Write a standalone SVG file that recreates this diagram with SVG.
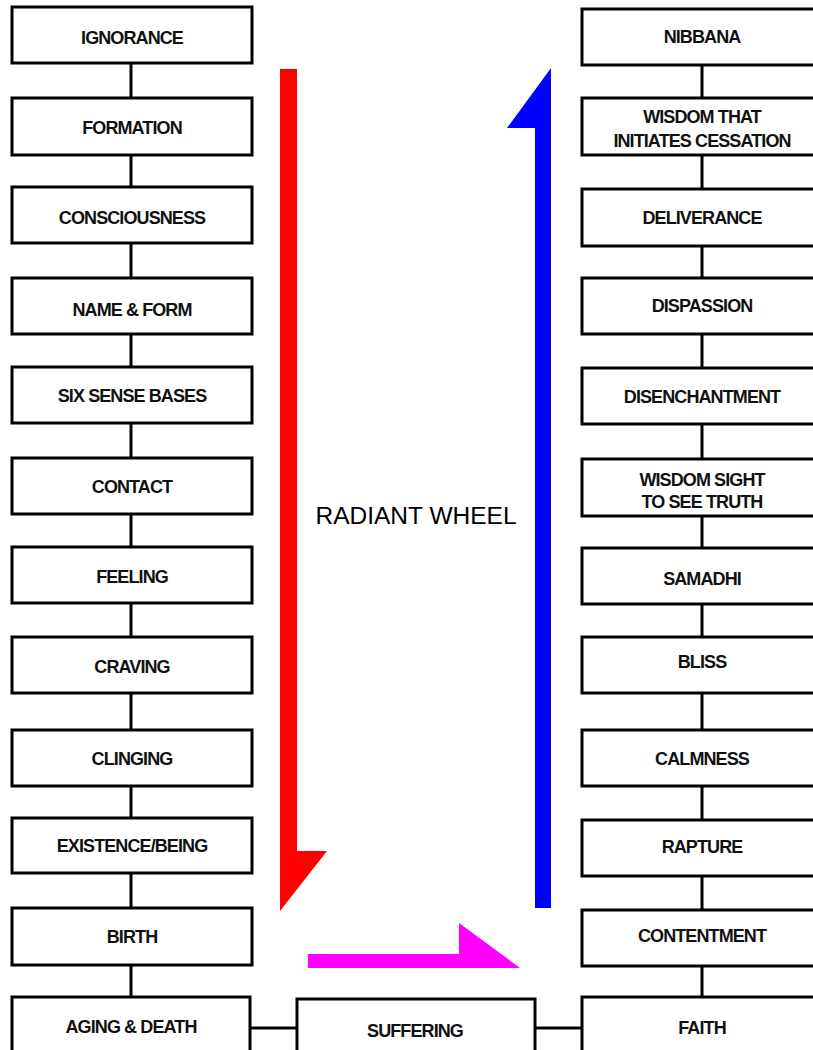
<svg xmlns="http://www.w3.org/2000/svg" width="813" height="1050" viewBox="0 0 813 1050">
<style>
.box{fill:#fff;stroke:#000;stroke-width:3}
.lbl{font-family:"Liberation Sans",Arial,sans-serif;font-weight:bold;font-size:18px;letter-spacing:-0.9px;text-anchor:middle;fill:#111}
.con{stroke:#000;stroke-width:3;fill:none}
.title{font-family:"Liberation Sans",Arial,sans-serif;font-size:24.5px;text-anchor:middle;fill:#000}
</style>
<rect width="813" height="1050" fill="#fff"/>
<g id="connectors">
<path class="con" d="M131 63V98M131 155V187M131 243V278M131 334V367M131 423V458M131 514V547M131 603V637M131 693V730M131 786V818M131 873V908M131 965V997"/>
<path class="con" d="M702 65V98M702 155V189M702 246V278M702 334V368M702 424V459M702 516V548M702 604V637M702 693V730M702 786V820M702 876V910M702 966V997"/>
<path class="con" d="M250 1028H297M535 1028H582"/>
</g>
<g id="arrows">
<polygon id="arrow-red" points="280,69 297,69 297,851 327,851 280,911" fill="#ff0000"/>
<polygon id="arrow-blue" points="551,68 551,908 535,908 535,128 507,128" fill="#0000ff"/>
<polygon id="arrow-magenta" points="308,954 459,954 459,923 520,968 308,968" fill="#ff00ff"/>
</g>
<text id="radiant-wheel" class="title" x="416" y="524">RADIANT WHEEL</text>
<g id="ignorance"><rect class="box" x="12" y="7" width="240" height="56"/><text class="lbl" x="132" y="44">IGNORANCE</text></g>
<g id="formation"><rect class="box" x="12" y="98" width="240" height="57"/><text class="lbl" x="132" y="134">FORMATION</text></g>
<g id="consciousness"><rect class="box" x="12" y="187" width="240" height="56"/><text class="lbl" x="132" y="224">CONSCIOUSNESS</text></g>
<g id="name-form"><rect class="box" x="12" y="278" width="240" height="56"/><text class="lbl" x="132" y="316">NAME &amp; FORM</text></g>
<g id="six-sense-bases"><rect class="box" x="12" y="367" width="240" height="56"/><text class="lbl" x="132" y="402">SIX SENSE BASES</text></g>
<g id="contact"><rect class="box" x="12" y="458" width="240" height="56"/><text class="lbl" x="132" y="493">CONTACT</text></g>
<g id="feeling"><rect class="box" x="12" y="547" width="240" height="56"/><text class="lbl" x="132" y="583">FEELING</text></g>
<g id="craving"><rect class="box" x="12" y="637" width="240" height="56"/><text class="lbl" x="132" y="673">CRAVING</text></g>
<g id="clinging"><rect class="box" x="12" y="730" width="240" height="56"/><text class="lbl" x="132" y="765">CLINGING</text></g>
<g id="existence-being"><rect class="box" x="12" y="818" width="240" height="55"/><text class="lbl" x="132" y="852">EXISTENCE/BEING</text></g>
<g id="birth"><rect class="box" x="12" y="908" width="240" height="57"/><text class="lbl" x="132" y="943">BIRTH</text></g>
<g id="aging-death"><rect class="box" x="12" y="997" width="238" height="70"/><text class="lbl" x="131" y="1033">AGING &amp; DEATH</text></g>
<g id="suffering"><rect class="box" x="297" y="999" width="238" height="70"/><text class="lbl" x="415" y="1037">SUFFERING</text></g>
<g id="nibbana"><rect class="box" x="582" y="9" width="240" height="56"/><text class="lbl" x="702" y="43">NIBBANA</text></g>
<g id="wisdom-cessation"><rect class="box" x="582" y="98" width="240" height="57"/><text class="lbl" x="702" y="123">WISDOM THAT</text><text class="lbl" x="702" y="147">INITIATES CESSATION</text></g>
<g id="deliverance"><rect class="box" x="582" y="189" width="240" height="57"/><text class="lbl" x="702" y="224">DELIVERANCE</text></g>
<g id="dispassion"><rect class="box" x="582" y="278" width="240" height="56"/><text class="lbl" x="702" y="312">DISPASSION</text></g>
<g id="disenchantment"><rect class="box" x="582" y="368" width="240" height="56"/><text class="lbl" x="702" y="403">DISENCHANTMENT</text></g>
<g id="wisdom-sight"><rect class="box" x="582" y="459" width="240" height="57"/><text class="lbl" x="702" y="486">WISDOM SIGHT</text><text class="lbl" x="702" y="508">TO SEE TRUTH</text></g>
<g id="samadhi"><rect class="box" x="582" y="548" width="240" height="56"/><text class="lbl" x="702" y="585">SAMADHI</text></g>
<g id="bliss"><rect class="box" x="582" y="637" width="240" height="56"/><text class="lbl" x="702" y="668">BLISS</text></g>
<g id="calmness"><rect class="box" x="582" y="730" width="240" height="56"/><text class="lbl" x="702" y="765">CALMNESS</text></g>
<g id="rapture"><rect class="box" x="582" y="820" width="240" height="56"/><text class="lbl" x="702" y="853">RAPTURE</text></g>
<g id="contentment"><rect class="box" x="582" y="910" width="240" height="56"/><text class="lbl" x="702" y="942">CONTENTMENT</text></g>
<g id="faith"><rect class="box" x="582" y="997" width="240" height="70"/><text class="lbl" x="702" y="1034">FAITH</text></g>
</svg>
